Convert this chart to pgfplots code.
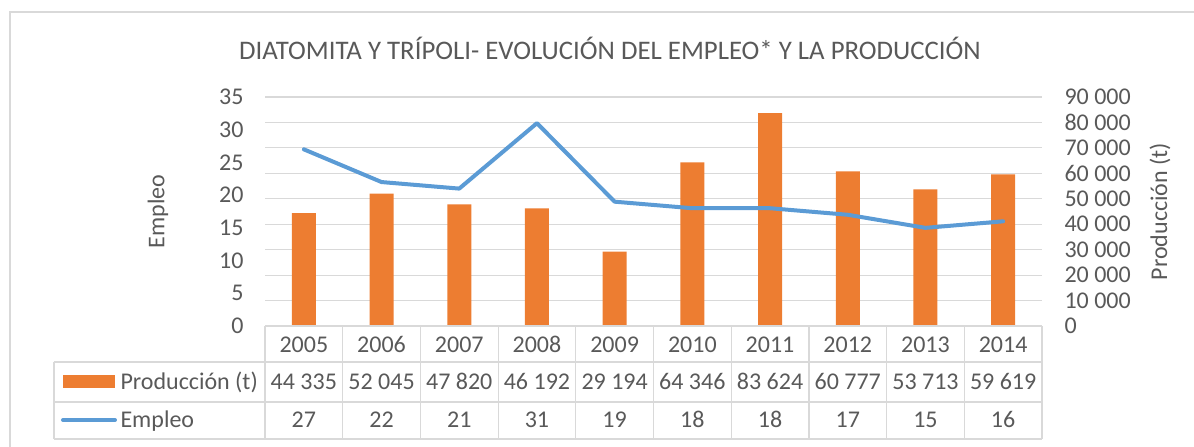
\documentclass[border=0pt]{standalone}
\usepackage{pgfplots}
\usepackage{pgfplotstable}
\pgfplotsset{compat=1.18}
\usepackage{fontspec}
\setmainfont{Carlito}
\definecolor{txt}{HTML}{595959}
\definecolor{grd}{HTML}{D9D9D9}
\definecolor{org}{HTML}{ED7D31}
\definecolor{blu}{HTML}{5B9BD5}
\pgfplotstableread{
x year prod emp
0 2005 44335 27
1 2006 52045 22
2 2007 47820 21
3 2008 46192 31
4 2009 29194 19
5 2010 64346 18
6 2011 83624 18
7 2012 60777 17
8 2013 53713 15
9 2014 59619 16
}\datatab
\newcommand{\tf}{\fontsize{24bp}{28bp}\selectfont}
\begin{document}
\begin{tikzpicture}
\useasboundingbox (-265bp,-121bp) rectangle (929bp,326bp);
\draw[grd, line width=1.2bp] (-255bp,-140bp) -- (-255bp,314bp) -- (940bp,314bp);
\node[txt, font=\fontsize{26.8bp}{31bp}\selectfont] at (345bp,278bp) {DIATOMITA Y TRÍPOLI- EVOLUCIÓN DEL EMPLEO* Y LA PRODUCCIÓN};
\node[txt, font=\tf, rotate=90, anchor=center] at (-107bp,114.5bp) {Empleo};
\node[txt, font=\tf, rotate=90, anchor=center] at (895bp,114.5bp) {Producción (t)};
% right axis: production bars + grid
\begin{axis}[at={(0,0)}, anchor=south west, scale only axis,
  width=777bp, height=229bp,
  xmin=-0.5, xmax=9.5, ymin=0, ymax=90000,
  axis x line=none, axis y line*=right,
  y axis line style={draw=none},
  ytick={0,10000,...,90000}, ymajorgrids,
  grid style={grd, line width=1.2bp},
  major tick length=0pt,
  scaled y ticks=false,
  yticklabel style={txt, font=\tf, anchor=west, xshift=19bp},
  /pgf/number format/assume math mode=true,
  /pgf/number format/1000 sep={\ },
  clip=false]
\addplot[ybar, bar width=24bp, fill=org, draw=none] table[x=x, y=prod] {\datatab};
\end{axis}
% left axis: employment line
\begin{axis}[at={(0,0)}, anchor=south west, scale only axis,
  width=777bp, height=229bp,
  xmin=-0.5, xmax=9.5, ymin=0, ymax=35,
  axis x line=none, axis y line*=left,
  y axis line style={draw=none},
  ytick={0,5,...,35},
  major tick length=0pt,
  yticklabel style={txt, font=\tf, anchor=east, xshift=-18bp},
  /pgf/number format/assume math mode=true,
  clip=false]
\addplot[blu, line width=4bp, line cap=round, line join=round] table[x=x, y=emp] {\datatab};
\end{axis}
% data table
\begin{scope}[grd, line width=1.2bp]
\draw (0,0) -- (777bp,0);
\foreach \r in {-36,-76,-113} {\draw (-211bp,\r bp) -- (777bp,\r bp);}
\foreach \c in {0,...,10} {\draw (\c*77.7bp,0) -- (\c*77.7bp,-113bp);}
\draw (-211bp,-36bp) -- (-211bp,-113bp);
\end{scope}
\fill[org] (-202bp,-49bp) rectangle (-150bp,-62bp);
\draw[blu, line width=4bp, line cap=round] (-202bp,-94bp) -- (-150bp,-94bp);
\node[txt, font=\tf, anchor=base west] at (-148bp,-63bp) {Producción (t)};
\node[txt, font=\tf, anchor=base west] at (-148bp,-101bp) {Empleo};
\foreach \i in {0,...,9} {
  \pgfplotstablegetelem{\i}{year}\of\datatab
  \node[txt, font=\tf, anchor=base] at ({(\i+0.5)*77.7bp},-26bp) {\pgfplotsretval};
  \pgfplotstablegetelem{\i}{prod}\of\datatab
  \node[txt, font=\tf, anchor=base] at ({(\i+0.5)*77.7bp},-63bp) {\pgfmathprintnumber[assume math mode=true,1000 sep={\ }]{\pgfplotsretval}};
  \pgfplotstablegetelem{\i}{emp}\of\datatab
  \node[txt, font=\tf, anchor=base] at ({(\i+0.5)*77.7bp},-101bp) {\pgfplotsretval};
}
\end{tikzpicture}
\end{document}
